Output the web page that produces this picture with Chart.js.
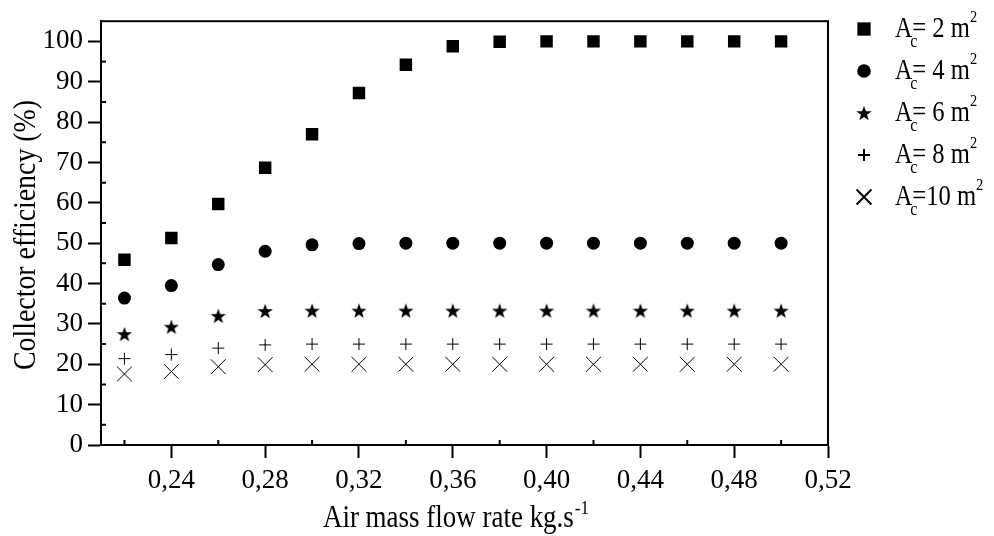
<!DOCTYPE html>
<html>
<head>
<meta charset="utf-8">
<script src="https://cdn.jsdelivr.net/npm/chart.js@4.4.1/dist/chart.umd.min.js"></script>
<style>
  html, body { margin: 0; padding: 0; background: #fff; }
  #wrap { width: 994px; height: 536px; }
</style>
</head>
<body>
<div id="wrap"><canvas id="chart"></canvas></div>
<script>
const flowRates = [0.22, 0.24, 0.26, 0.28, 0.30, 0.32, 0.34, 0.36, 0.38, 0.40, 0.42, 0.44, 0.46, 0.48, 0.50];
const eff2  = [45.9, 51.3, 59.7, 68.7, 77.0, 87.2, 94.2, 98.8, 99.9, 100, 100, 100, 100, 100, 100];
const eff4  = [36.4, 39.5, 44.7, 48.0, 49.6, 49.9, 50, 50, 50, 50, 50, 50, 50, 50, 50];
const eff6  = [27.5, 29.3, 32.0, 33.2, 33.3, 33.3, 33.3, 33.3, 33.3, 33.3, 33.3, 33.3, 33.3, 33.3, 33.3];
const eff8  = [21.4, 22.4, 24.0, 24.8, 25, 25, 25, 25, 25, 25, 25, 25, 25, 25, 25];
const eff10 = [17.6, 18.2, 19.4, 19.9, 20, 20, 20, 20, 20, 20, 20, 20, 20, 20, 20];
const areas = ['2', '4', '6', '8', '10'];
const xTicks = [0.24, 0.28, 0.32, 0.36, 0.40, 0.44, 0.48, 0.52];
const xMinor = [0.22, 0.26, 0.30, 0.34, 0.38, 0.42, 0.46, 0.50];
const yTicks = [0, 10, 20, 30, 40, 50, 60, 70, 80, 90, 100];
const yMinor = [5, 15, 25, 35, 45, 55, 65, 75, 85, 95];

const FONT = '"Liberation Serif", "Times New Roman", serif';

// filled five point star for the 6 m2 series
function makeStar(size) {
    const c = document.createElement('canvas');
    c.width = size; c.height = size;
    const g = c.getContext('2d');
    const cx = size / 2, cy = size / 2 + 0.8, R = size / 2, r = R * 0.4;
    g.beginPath();
    for (let i = 0; i < 10; i++) {
        const rad = (i % 2 === 0) ? R : r;
        const a = -Math.PI / 2 + i * Math.PI / 5;
        g.lineTo(cx + rad * Math.cos(a), cy + rad * Math.sin(a));
    }
    g.closePath();
    g.fillStyle = '#000';
    g.fill();
    return c;
}
const star = makeStar(16);

const styles = [
    { pointStyle: 'rect', radius: 8.8, legendRadius: 9.4, borderWidth: 0 },
    { pointStyle: 'circle', radius: 6.5, legendRadius: 6.8, borderWidth: 0 },
    { pointStyle: star, radius: 8, legendRadius: 8, borderWidth: 0 },
    { pointStyle: 'cross', radius: 6, legendRadius: 6, borderWidth: 1 },
    { pointStyle: 'crossRot', radius: 10.5, legendRadius: 10.5, borderWidth: 1 }
];
const series = [eff2, eff4, eff6, eff8, eff10];

const datasets = series.map((s, i) => ({
    label: 'Ac=' + areas[i] + ' m2',
    data: flowRates.map((x, j) => ({ x: x, y: s[j] })),
    showLine: false,
    pointStyle: styles[i].pointStyle,
    pointRadius: styles[i].radius,
    pointHoverRadius: styles[i].radius,
    pointBorderWidth: styles[i].borderWidth,
    backgroundColor: '#000',
    borderColor: '#000'
}));

// text squeezed horizontally like the original typesetting
function squeezed(ctx, text, x, y, size, sx) {
    ctx.save();
    ctx.font = size + 'px ' + FONT;
    ctx.translate(x, y);
    ctx.scale(sx, 1);
    ctx.fillText(text, 0, 0);
    const w = ctx.measureText(text).width * sx;
    ctx.restore();
    return w;
}
function widthOf(ctx, text, size, sx) {
    ctx.save();
    ctx.font = size + 'px ' + FONT;
    const w = ctx.measureText(text).width * sx;
    ctx.restore();
    return w;
}

// frame, inner minor ticks, legend and axis titles
const extras = {
    id: 'extras',
    afterDraw(chart) {
        const ctx = chart.ctx;
        const a = chart.chartArea;
        const xs = chart.scales.x, ys = chart.scales.y;
        ctx.save();
        ctx.strokeStyle = '#000';
        ctx.lineWidth = 2;
        ctx.strokeRect(a.left, a.top, a.right - a.left, a.bottom - a.top);

        ctx.beginPath();
        yMinor.forEach(v => {
            const p = ys.getPixelForValue(v);
            ctx.moveTo(a.left, p); ctx.lineTo(a.left + 5, p);
        });
        xMinor.forEach(v => {
            const p = xs.getPixelForValue(v);
            ctx.moveTo(p, a.bottom); ctx.lineTo(p, a.bottom - 5);
        });
        ctx.stroke();

        // legend
        ctx.textBaseline = 'alphabetic';
        ctx.textAlign = 'left';
        areas.forEach((ar, i) => {
            const base = 37 + i * 42;
            ctx.fillStyle = '#000';
            ctx.strokeStyle = '#000';
            Chart.helpers.drawPoint(ctx, {
                pointStyle: styles[i].pointStyle,
                radius: styles[i].legendRadius,
                rotation: 0,
                borderWidth: styles[i].borderWidth
            }, 864, base - 8);
            ctx.fillStyle = '#000';
            let x = 895;
            x += squeezed(ctx, 'A', x, base, 30, 0.8);
            squeezed(ctx, 'c', x - 2, base + 10, 19, 0.85);
            const mid = (ar.length > 1 ? '=' : '= ') + ar + ' m';
            x += squeezed(ctx, mid, x, base, 30, 0.82);
            squeezed(ctx, '2', x, base - 15, 16, 0.9);
        });

        // x axis title
        const t = 'Air mass flow rate kg.s';
        const w1 = widthOf(ctx, t, 31, 0.87);
        const w2 = widthOf(ctx, '-1', 19, 0.9);
        const tx = (a.left + a.right) / 2 - 9 - (w1 + w2) / 2;
        squeezed(ctx, t, tx, 527, 31, 0.87);
        squeezed(ctx, '-1', tx + w1 + 1, 514, 19, 0.9);

        // y axis title
        ctx.save();
        ctx.translate(35, 235);
        ctx.rotate(-Math.PI / 2);
        ctx.textAlign = 'center';
        ctx.font = '32px ' + FONT;
        ctx.scale(0.87, 1);
        ctx.fillText('Collector efficiency (%)', 0, 0);
        ctx.restore();
        ctx.restore();
    }
};

new Chart(document.getElementById('chart'), {
    type: 'scatter',
    data: { datasets },
    options: {
        responsive: true,
        maintainAspectRatio: false,
        animation: false,
        events: [],
        layout: { padding: { left: 0, right: 166, top: 13, bottom: 0 } },
        plugins: { legend: { display: false }, tooltip: { enabled: false } },
        scales: {
            x: {
                type: 'linear',
                min: 0.21,
                max: 0.52,
                afterBuildTicks: s => { s.ticks = xTicks.map(v => ({ value: v })); },
                afterFit: s => { s.height = 536 - 445; },
                ticks: {
                    color: '#000',
                    font: { family: FONT, size: 27 },
                    padding: 7,
                    maxRotation: 0,
                    autoSkip: false,
                    callback: v => v.toFixed(2).replace('.', ',')
                },
                grid: { drawOnChartArea: false, drawTicks: true, tickLength: 13, tickColor: '#000', tickWidth: 2 },
                border: { display: true, color: '#000', width: 2 }
            },
            y: {
                type: 'linear',
                min: 0,
                max: 105,
                afterBuildTicks: s => { s.ticks = yTicks.map(v => ({ value: v })); },
                afterFit: s => { s.width = 101; },
                ticks: {
                    color: '#000',
                    font: { family: FONT, size: 27 },
                    padding: 5,
                    autoSkip: false,
                    callback: v => String(v)
                },
                grid: { drawOnChartArea: false, drawTicks: true, tickLength: 13, tickColor: '#000', tickWidth: 2 },
                border: { display: true, color: '#000', width: 2 }
            }
        }
    },
    plugins: [extras]
});
</script>
</body>
</html>
